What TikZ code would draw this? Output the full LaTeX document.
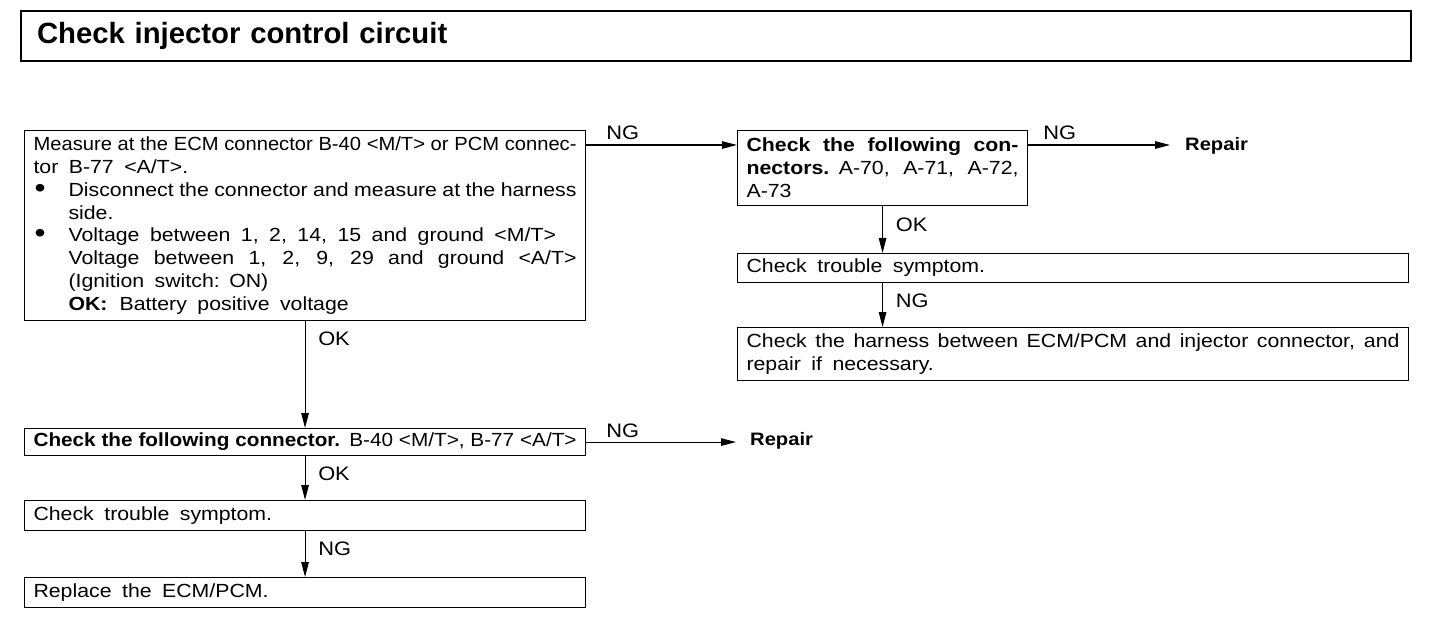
\documentclass[tikz,border=0pt]{standalone}
\usepackage{fontspec}
\usepackage{graphicx}
\setmainfont{Liberation Sans}
\newfontfamily\bodyfont[FakeStretch=1.12]{Liberation Sans}
\newfontfamily\titlefont{Liberation Sans}
\usetikzlibrary{arrows.meta}
\newcommand\bsz{\bodyfont\fontsize{19}{22.9}\selectfont}
\newcommand\wsp{\spaceskip=10.5pt plus 1pt minus 1pt\relax}
\newcommand\jl[2]{\leavevmode\hbox to #1{\spaceskip=7pt plus 1fil minus 3pt\relax #2}}
\newcommand\fitline[2]{\leavevmode\resizebox{#1}{\height}{\spaceskip=6pt\relax #2}}
\newcommand\bul{\makebox[35pt][l]{\hspace{1pt}\raisebox{-1pt}{\fontsize{28}{0}\selectfont •}}}
\begin{document}
\begin{tikzpicture}[x=1pt,y=-1pt,
  box/.style={draw, line width=1.1pt, anchor=north west, inner xsep=9pt, inner ysep=0pt, align=left, font=\bsz,
     execute at begin node=\wsp},
  titlebox/.style={draw, line width=2pt, anchor=north west, inner xsep=16pt, inner ysep=0pt, align=left,
     minimum height=50pt, text width=1358pt, font=\titlefont\bfseries\fontsize{29.3}{31}\selectfont},
  arr/.style={line width=1.1pt, -{Triangle[length=15pt,width=7.5pt]}},
  lbl/.style={inner sep=0pt, font=\bodyfont\fontsize{19.5}{19.5}\selectfont},
  rep/.style={inner sep=0pt, anchor=west, font=\bodyfont\bfseries\fontsize{18}{20}\selectfont}]
\useasboundingbox (0,0) rectangle (1440,620);

\node[titlebox] (title) at (20,10) {Check injector control circuit};

\node[box, text width=543pt, minimum height=190pt] (b1) at (24,130) {%
\fitline{543pt}{Measure at the ECM connector B-40 <M/T> or PCM connec-}\\
tor B-77 <A/T>.\\
\bul\jl{508pt}{Disconnect the connector and measure at the harness}\\
\hspace*{35pt}side.\\
\bul Voltage between 1, 2, 14, 15 and ground <M/T>\\
\hspace*{35pt}\jl{508pt}{Voltage between 1, 2, 9, 29 and ground <A/T>}\\
\hspace*{35pt}(Ignition switch: ON)\\
\hspace*{35pt}\textbf{OK:}\hspace{12pt}Battery positive voltage};

\node[box, text width=272pt, minimum height=75pt] (b2) at (737,130) {%
\jl{272pt}{\textbf{Check the following con-}}\\
\jl{272pt}{\textbf{nectors.} A-70, A-71, A-72,}\\
A-73};

\node[rep] (rep1) at (1185,146) {Repair};

\node[box, text width=653pt, minimum height=29pt] (b3) at (737,253) {Check trouble symptom.};

\node[box, text width=653pt, minimum height=53pt] (b4) at (737,327) {%
\jl{653pt}{Check the harness between ECM/PCM and injector connector, and}\\
repair if necessary.};

\node[box, text width=543pt, minimum height=27pt] (b5) at (24,428) {%
\fitline{543pt}{\textbf{Check the following connector.} B-40 <M/T>, B-77 <A/T>}};

\node[rep] (rep2) at (750,441) {Repair};

\node[box, text width=543pt, minimum height=30pt] (b6) at (24,500) {Check trouble symptom.};

\node[box, text width=543pt, minimum height=30pt] (b7) at (24,577) {Replace the ECM/PCM.};

% connectors
\coordinate (n1s) at ([yshift=-15pt]b1.north east);
\coordinate (n1e) at ([yshift=-15pt]b2.north west);
\draw[arr] (n1s) -- (n1e);
\node[lbl, anchor=base west] (ng1) at ([xshift=20pt,yshift=5pt]n1s) {NG};

\coordinate (n2s) at ([yshift=-15pt]b2.north east);
\draw[arr] (n2s) -- ([xshift=-15pt]rep1.west |- n2s);
\node[lbl, anchor=base west] (ng2) at ([xshift=15pt,yshift=5pt]n2s) {NG};

\draw[arr] (b2.south) -- (b2.south |- b3.north);
\node[lbl, anchor=west] (ok2) at ([xshift=13pt,yshift=-19pt]b2.south) {OK};

\draw[arr] (b2.south |- b3.south) -- (b2.south |- b4.north);
\node[lbl, anchor=west] (ng3) at ([xshift=13pt,yshift=-18pt]b2.south |- b3.south) {NG};

\draw[arr] (b1.south) -- (b1.south |- b5.north);
\node[lbl, anchor=west] (ok1) at ([xshift=13pt,yshift=-18pt]b1.south) {OK};

\draw[arr] (b5.east) -- ([xshift=-14pt]rep2.west |- b5.east);
\node[lbl, anchor=base west] (ng4) at ([xshift=20pt,yshift=5pt]b5.east) {NG};

\draw[arr] (b5.south) -- (b6.north);
\node[lbl, anchor=west] (ok3) at ([xshift=13pt,yshift=-18pt]b5.south) {OK};

\draw[arr] (b6.south) -- (b7.north);
\node[lbl, anchor=west] (ng5) at ([xshift=13pt,yshift=-18pt]b6.south) {NG};
\end{tikzpicture}
\end{document}
